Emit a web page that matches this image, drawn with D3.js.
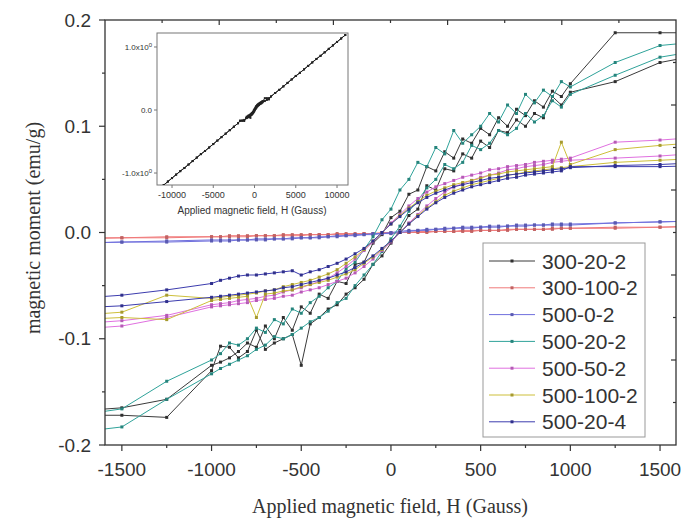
<!DOCTYPE html>
<html><head><meta charset="utf-8">
<script src="https://cdn.jsdelivr.net/npm/d3@7"></script>
<style>body{margin:0;background:#fff;} svg{display:block;}</style>
</head><body>
<svg id="chart" width="681" height="523"></svg>
<script>
// ---------- DATA (magnetic moment in 10^-3 emu/g) ----------
// field values, listed from +H to -H; both branches of each loop are listed in this order
const H_FIELD = [1750,1500,1250,
 1000,950,900,850,800,750,700,650,600,550,
 500,450,400,350,300,250,200,150,100,50,
 0,-50,-100,-150,-200,-250,-300,-350,-400,-450,
 -500,-550,-600,-650,-700,-750,-800,-850,-900,-950,
 -1000,-1250,-1500,-1750];

const SERIES_NAMES = ["300-20-2","300-100-2","500-0-2","500-20-2","500-50-2","500-100-2","500-20-4"];
const SERIES_COLORS = ["#3a3a3a","#f07a7a","#7070dd","#2fa39a","#e070e0","#cdbf3a","#3c3cae"];

const S300_20_2_DESC = [188,188,188,
 140,128,133,118,124,110,116,100,108,92,
 98,84,88,70,76,58,62,40,36,20,
 14,-2,-10,-28,-30,-48,-46,-62,-58,-76,
 -70,-92,-80,-100,-88,-108,-104,-112,-118,-122,
 -125,-157,-165,-168];
const S300_20_2_ASC = [168,160,142,
 132,120,128,108,112,100,106,94,96,80,
 86,70,74,58,60,40,44,22,16,2,
 -10,-22,-30,-44,-52,-58,-68,-72,-80,-86,
 -125,-96,-100,-104,-110,-92,-112,-118,-108,-107,
 -130,-174,-172,-172];

const S300_100_2_DESC = [6,5,5,
 4,4,4,3,3,3,3,3,2,2,
 2,2,2,1,1,1,1,1,0,0,
 0,0,-1,-1,-1,-1,-1,-2,-2,-2,
 -2,-2,-2,-3,-3,-3,-3,-3,-3,-4,
 -4,-4,-5,-5];
const S300_100_2_ASC = [6,5,4,
 4,4,3,3,3,3,3,2,2,2,
 2,1,1,1,1,1,0,0,0,0,
 -1,-1,-1,-1,-2,-2,-2,-2,-2,-2,
 -3,-3,-3,-3,-3,-3,-4,-4,-4,-4,
 -4,-5,-5,-6];

const S500_0_2_DESC = [11,10,9,
 8,8,8,7,7,7,7,6,6,6,
 5,5,5,4,4,3,3,2,2,1,
 0,-1,-1,-2,-2,-3,-3,-4,-4,-5,
 -5,-5,-6,-6,-6,-6,-7,-7,-7,-7,
 -7,-8,-9,-10];
const S500_0_2_ASC = [11,10,9,
 7,7,7,7,7,6,6,6,5,5,
 5,4,4,4,3,3,2,2,1,0,
 -1,-1,-2,-2,-3,-3,-4,-4,-5,-5,
 -5,-6,-6,-6,-7,-7,-7,-7,-8,-8,
 -8,-9,-9,-10];

const S500_20_2_DESC = [180,176,160,
 137,142,128,134,122,130,112,120,104,112,
 100,92,84,96,74,80,62,66,50,40,
 22,12,-4,-16,-28,-34,-46,-52,-60,-66,
 -76,-72,-86,-82,-94,-90,-100,-106,-104,-114,
 -120,-140,-166,-172];
const S500_20_2_ASC = [172,165,148,
 130,118,124,110,104,112,98,92,96,84,
 78,82,66,60,64,50,42,30,20,6,
 -6,-18,-30,-40,-50,-62,-66,-74,-80,-84,
 -90,-96,-100,-98,-106,-110,-116,-120,-124,-128,
 -133,-157,-183,-188];

const S500_50_2_DESC = [90,87,85,
 70,69,68,67,66,64,63,62,60,59,
 56,54,52,49,46,43,38,32,25,17,
 9,0,-9,-17,-25,-32,-38,-43,-46,-49,
 -52,-54,-56,-59,-60,-62,-63,-64,-66,-67,
 -68,-78,-83,-86];
const S500_50_2_ASC = [75,72,70,
 68,67,66,64,63,62,60,59,56,54,
 52,49,46,43,38,32,25,17,9,0,
 -9,-17,-25,-32,-38,-43,-46,-49,-52,-54,
 -56,-59,-60,-62,-63,-64,-66,-67,-68,-69,
 -70,-80,-88,-91];

const S500_100_2_DESC = [85,82,78,
 64,85,62,61,60,59,58,57,55,54,
 51,49,47,45,42,39,35,29,23,16,
 8,0,-8,-16,-23,-29,-35,-39,-42,-45,
 -47,-49,-51,-54,-55,-57,-58,-59,-60,-61,
 -62,-59,-75,-78];
const S500_100_2_ASC = [70,68,66,
 62,61,60,59,58,57,55,54,51,49,
 47,45,42,39,35,29,23,16,8,0,
 -8,-16,-23,-29,-35,-39,-42,-45,-47,-49,
 -51,-54,-55,-57,-58,-80,-60,-61,-62,-63,
 -64,-82,-80,-82];

const S500_20_4_DESC = [66,64,63,
 61,60,59,58,57,56,55,54,52,51,
 49,47,45,43,40,37,33,28,22,15,
 8,0,-8,-15,-20,-25,-29,-32,-35,-37,
 -40,-36,-37,-38,-39,-40,-40,-41,-43,-45,
 -48,-54,-59,-62];
const S500_20_4_ASC = [63,62,62,
 62,58,57,56,55,54,52,51,49,47,
 45,43,40,37,33,28,22,15,8,0,
 -8,-15,-22,-28,-33,-37,-40,-43,-45,-47,
 -49,-51,-52,-54,-55,-56,-57,-58,-59,-60,
 -61,-65,-69,-71];

// inset: high-field part of the 300-20-2 sample (G, emu/g)
const INSET_H_POS = [11000,10500,10000,9500,9000,8500,8000,7500,7000,6500,6000,5500,5000,4500,4000,3500,3000,2500,2000];
const INSET_M_POS = [1.19,1.135,1.08,1.025,0.97,0.915,0.86,0.81,0.755,0.70,0.645,0.59,0.54,0.485,0.43,0.375,0.32,0.27,0.215];
const INSET_H_NEG = [-2000,-2500,-3000,-3500,-4000,-4500,-5000,-5500,-6000,-6500,-7000,-7500,-8000,-8500,-9000,-9500,-10000,-10500,-11000];
const INSET_M_NEG = [-0.21,-0.265,-0.32,-0.375,-0.43,-0.485,-0.54,-0.595,-0.65,-0.70,-0.755,-0.81,-0.865,-0.92,-0.97,-1.025,-1.08,-1.135,-1.19];

const X_TICKS = [-1500,-1000,-500,0,500,1000,1500];
const Y_TICKS = [-0.2,-0.1,0.0,0.1,0.2];
const INSET_X_TICKS = [-10000,-5000,0,5000,10000];
const INSET_Y_TICKS = [-1,0,1];

// ---------- DRAW ----------
const DESC = [S300_20_2_DESC,S300_100_2_DESC,S500_0_2_DESC,S500_20_2_DESC,S500_50_2_DESC,S500_100_2_DESC,S500_20_4_DESC];
const ASC  = [S300_20_2_ASC,S300_100_2_ASC,S500_0_2_ASC,S500_20_2_ASC,S500_50_2_ASC,S500_100_2_ASC,S500_20_4_ASC];

const svg = d3.select("#chart");
const L=105, R=676, T=20, B=445;
const x = d3.scaleLinear().domain([-1594,1589]).range([L,R]);
const y = d3.scaleLinear().domain([-0.2,0.2]).range([B,T]);
const axisCol = "#333";
const sans = "'Liberation Sans', Arial, sans-serif";
const serif = "'Liberation Serif', 'Times New Roman', serif";

svg.append("clipPath").attr("id","clip").append("rect").attr("x",L).attr("y",T).attr("width",R-L).attr("height",B-T);

const plot = svg.append("g").attr("clip-path","url(#clip)");
const line = d3.line().x(d=>x(d[0])).y(d=>y(d[1]/1000));

SERIES_NAMES.forEach((name,si)=>{
  const down = H_FIELD.map((h,i)=>[h,DESC[si][i]]);
  const up = H_FIELD.map((h,i)=>[h,ASC[si][i]]).reverse();
  const pts = down.concat(up);
  const g = plot.append("g");
  g.append("path").datum(pts).attr("d",line).attr("fill","none")
    .attr("stroke",SERIES_COLORS[si]).attr("stroke-width",1);
  g.selectAll("rect").data(pts.filter(p=>Math.abs(p[0])<=1500)).join("rect")
    .attr("x",d=>x(d[0])-1.5).attr("y",d=>y(d[1]/1000)-1.5).attr("width",3).attr("height",3)
    .attr("fill",d3.color(SERIES_COLORS[si]).darker(0.6));
});

// frame
svg.append("rect").attr("x",L).attr("y",T).attr("width",R-L).attr("height",B-T)
  .attr("fill","none").attr("stroke",axisCol).attr("stroke-width",1.3);

// bottom axis
const xMinor = d3.range(-1500,1501,250);
svg.append("g").selectAll("line").data(xMinor).join("line")
  .attr("x1",d=>x(d)).attr("x2",d=>x(d)).attr("y1",B).attr("y2",d=>B+(d%500===0?6:3))
  .attr("stroke",axisCol).attr("stroke-width",1.2);
svg.append("g").selectAll("text").data(X_TICKS).join("text")
  .attr("x",d=>x(d)).attr("y",476).attr("text-anchor","middle")
  .attr("font-family",sans).attr("font-size",19).attr("fill","#333")
  .text(d=>d);

// left axis
const yMinor = d3.range(-0.2,0.2001,0.05);
svg.append("g").selectAll("line").data(yMinor).join("line")
  .attr("x1",L).attr("x2",(d,i)=>L-(i%2===0?6:3)).attr("y1",d=>y(d)).attr("y2",d=>y(d))
  .attr("stroke",axisCol).attr("stroke-width",1.2);
svg.append("g").selectAll("text").data(Y_TICKS).join("text")
  .attr("x",91).attr("y",d=>y(d)).attr("dy","0.35em").attr("text-anchor","end")
  .attr("font-family",sans).attr("font-size",19).attr("fill","#333")
  .text(d=>d.toFixed(1));

// top and right mirror ticks (10 divisions)
const div = d3.scaleLinear().domain([0,10]);
const topX = div.copy().range([L,R]), rightY = div.copy().range([B,T]);
svg.append("g").selectAll("line").data(d3.range(1,10)).join("line")
  .attr("x1",d=>topX(d)).attr("x2",d=>topX(d)).attr("y1",T).attr("y2",d=>T+(d%2===0?5:3))
  .attr("stroke",axisCol).attr("stroke-width",1.2);
svg.append("g").selectAll("line").data(d3.range(1,10)).join("line")
  .attr("x1",R).attr("x2",d=>R-(d%2===0?5:3)).attr("y1",d=>rightY(d)).attr("y2",d=>rightY(d))
  .attr("stroke",axisCol).attr("stroke-width",1.2);

// axis titles
svg.append("text").attr("x",390).attr("y",513).attr("text-anchor","middle")
  .attr("font-family",serif).attr("font-size",20).attr("fill","#333")
  .text("Applied magnetic field, H (Gauss)");
svg.append("text").attr("transform","translate(40,228) rotate(-90)").attr("text-anchor","middle")
  .attr("font-family",serif).attr("font-size",20).attr("fill","#333")
  .text("magnetic moment (emu/g)");

// legend
const lg = svg.append("g");
lg.append("rect").attr("x",483).attr("y",243).attr("width",162).attr("height",194)
  .attr("fill","#fff").attr("stroke","#999").attr("stroke-width",1);
SERIES_NAMES.forEach((name,i)=>{
  const yy = 261 + i*26.8;
  lg.append("line").attr("x1",489).attr("x2",535).attr("y1",yy).attr("y2",yy)
    .attr("stroke",SERIES_COLORS[i]).attr("stroke-width",1);
  lg.append("rect").attr("x",510.5).attr("y",yy-1.5).attr("width",3).attr("height",3)
    .attr("fill",d3.color(SERIES_COLORS[i]).darker(0.6));
  lg.append("text").attr("x",542).attr("y",yy).attr("dy","0.36em")
    .attr("font-family",sans).attr("font-size",21).attr("fill","#333").text(name);
});

// inset
const IL=157, IR=348, IT=33, IB=185;
const ix = d3.scaleLinear().domain([-11820,11330]).range([IL,IR]);
const iy = d3.scaleLinear().domain([-1.19,1.222]).range([IB,IT]);
const ins = svg.append("g");
ins.append("rect").attr("x",IL).attr("y",IT).attr("width",IR-IL).attr("height",IB-IT)
  .attr("fill","#fff").attr("stroke","#777").attr("stroke-width",1);
ins.append("clipPath").attr("id","iclip").append("rect").attr("x",IL).attr("y",IT).attr("width",IR-IL).attr("height",IB-IT);
const posOut = INSET_H_POS.map((h,i)=>[h,INSET_M_POS[i]]);
const negOut = INSET_H_NEG.map((h,i)=>[h,INSET_M_NEG[i]]);
const inDown = H_FIELD.map((h,i)=>[h,S300_20_2_DESC[i]/1000]);
const inUp = H_FIELD.map((h,i)=>[h,S300_20_2_ASC[i]/1000]).reverse();
const inset = posOut.concat(inDown, negOut, negOut.slice().reverse(), inUp, posOut.slice().reverse());
const iline = d3.line().x(d=>ix(d[0])).y(d=>iy(d[1]));
const ig = ins.append("g").attr("clip-path","url(#iclip)");
ig.append("path").datum(inset).attr("d",iline).attr("fill","none").attr("stroke","#222").attr("stroke-width",1);
ig.selectAll("rect").data(inset).join("rect")
  .attr("x",d=>ix(d[0])-1).attr("y",d=>iy(d[1])-1).attr("width",2).attr("height",2).attr("fill","#222");
ins.selectAll(".ixt").data(INSET_X_TICKS).join("line").attr("class","ixt")
  .attr("x1",d=>ix(d)).attr("x2",d=>ix(d)).attr("y1",IB).attr("y2",IB+3).attr("stroke","#777");
ins.selectAll(".ixl").data(INSET_X_TICKS).join("text").attr("class","ixl")
  .attr("x",d=>ix(d)).attr("y",198).attr("text-anchor","middle")
  .attr("font-family",sans).attr("font-size",9).attr("fill","#333").text(d=>d);
ins.selectAll(".iyt").data(INSET_Y_TICKS).join("line").attr("class","iyt")
  .attr("x1",IL).attr("x2",IL-3).attr("y1",d=>iy(d)).attr("y2",d=>iy(d)).attr("stroke","#777");
const iyl = ins.selectAll(".iyl").data(INSET_Y_TICKS).join("text").attr("class","iyl")
  .attr("x",IL-5).attr("y",d=>iy(d)).attr("dy","0.35em").attr("text-anchor","end")
  .attr("font-family",sans).attr("font-size",8).attr("fill","#333");
iyl.each(function(d){
  const t=d3.select(this);
  if(d===0){ t.text("0.0"); return; }
  t.append("tspan").text((d<0?"-":"")+"1.0x10");
  t.append("tspan").attr("dy","-0.5em").attr("font-size",6).text("0");
});
ins.append("text").attr("x",252).attr("y",214).attr("text-anchor","middle")
  .attr("font-family",sans).attr("font-size",10).attr("fill","#333")
  .text("Applied magnetic field, H (Gauss)");
</script>
</body></html>
